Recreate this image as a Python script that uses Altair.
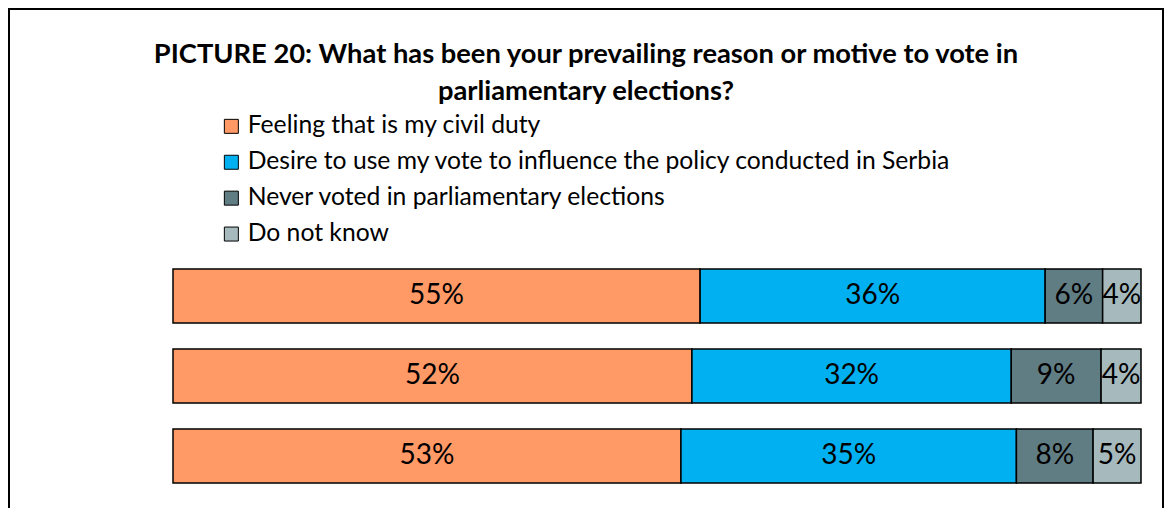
import altair as alt
import pandas as pd

rows = ["Survey 1", "Survey 2", "Survey 3"]
categories = [
    "Feeling that is my civil duty",
    "Desire to use my vote to influence the policy conducted in Serbia",
    "Never voted in parliamentary elections",
    "Do not know",
]
civil_duty = [55, 52, 53]
influence = [36, 32, 35]
never_voted = [6, 9, 8]
do_not_know = [4, 4, 5]
colors = ["#FF9966", "#00B0F0", "#617D84", "#A6B9BD"]

series = [civil_duty, influence, never_voted, do_not_know]
records = []
for ci, (cat, vals) in enumerate(zip(categories, series)):
    for r, v in zip(rows, vals):
        records.append({"row": r, "category": cat, "order": ci, "value": v, "label": f"{v}%"})
df = pd.DataFrame(records)

FONT = "Lato"

base = alt.Chart(df).transform_joinaggregate(
    total="sum(value)", groupby=["row"]
).transform_window(
    cum="sum(value)", sort=[alt.SortField("order")], groupby=["row"], frame=[None, 0]
).transform_calculate(
    start="(datum.cum - datum.value) / datum.total",
    end="datum.cum / datum.total",
    mid="(datum.cum - datum.value / 2) / datum.total",
)

yenc = alt.Y("row:N", sort=rows, axis=None,
             scale=alt.Scale(paddingInner=0.325, paddingOuter=0.1625))

bars = base.mark_bar(stroke="black", strokeWidth=1.5).encode(
    x=alt.X("start:Q", scale=alt.Scale(domain=[0, 1]), axis=None),
    x2="end:Q",
    y=yenc,
    color=alt.Color(
        "category:N",
        scale=alt.Scale(domain=categories, range=colors),
        legend=alt.Legend(
            orient="none", legendX=46, legendY=-142, direction="vertical",
            title=None, symbolType="square", symbolSize=196,
            symbolStrokeColor="black", symbolStrokeWidth=1, symbolOpacity=1,
            labelFontSize=24.7, labelFont=FONT, labelColor="black",
            labelOffset=4, rowPadding=9.9, labelLimit=900,
        ),
    ),
)

labels = base.mark_text(fontSize=28, font=FONT, color="black", baseline="middle").encode(
    x=alt.X("mid:Q", scale=alt.Scale(domain=[0, 1]), axis=None),
    y=yenc,
    text="label:N",
)

frame_left = alt.Chart(df).mark_rule(color="black", strokeWidth=1.5).encode(
    x=alt.value(-164), y=alt.value(-248), y2=alt.value(252))
frame_top = alt.Chart(df).mark_rule(color="black", strokeWidth=1.5).encode(
    x=alt.value(-165), x2=alt.value(991), y=alt.value(-247))
frame_right = alt.Chart(df).mark_rule(color="black", strokeWidth=1.5).encode(
    x=alt.value(990), y=alt.value(-248), y2=alt.value(252))

chart = alt.layer(bars, labels, frame_left, frame_top, frame_right).properties(
    width=968,
    height=240,
    padding={"left": 165, "top": 248, "right": 23, "bottom": 12},
    autosize=alt.AutoSizeParams(type="none"),
    title=alt.TitleParams(
        text=["PICTURE 20: What has been your prevailing reason or motive to vote in",
              "parliamentary elections?"],
        font=FONT, fontSize=27.3, fontWeight="bold", color="black",
        anchor="middle", dx=-71, dy=108, lineHeight=37, offset=10,
    ),
).configure_view(stroke=None)

chart.save("out.html", embed_options={"renderer": "svg", "actions": False})
